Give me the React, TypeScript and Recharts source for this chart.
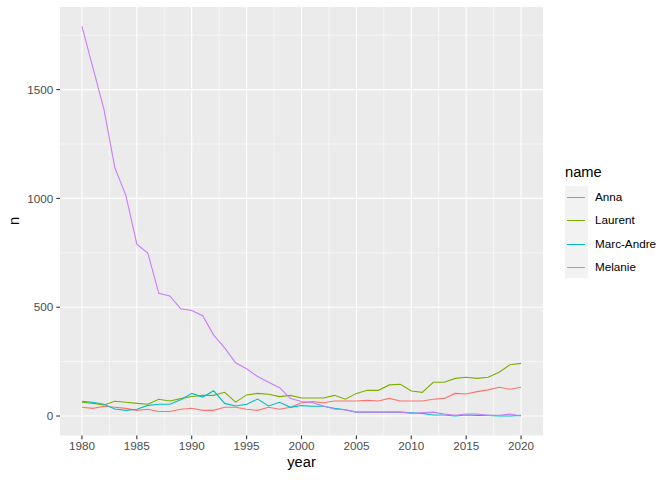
import { LineChart, Line, XAxis, YAxis, CartesianGrid } from 'recharts';

const years = Array.from({ length: 41 }, (_, i) => 1980 + i);

const names = ['Anna', 'Laurent', 'Marc-Andre', 'Melanie'];
const colors = ['#F8766D', '#7CAE00', '#00BFC4', '#C77CFF'];

const anna = [
  40, 35, 45, 40, 35, 26, 31, 21, 21, 31, 36, 26, 26, 40, 40, 31, 26, 40, 31, 40,
  61, 66, 61, 69, 69, 69, 72, 69, 81, 69, 69, 69, 77, 81, 104, 101, 112, 120, 132, 123, 132,
];
const laurent = [
  63, 58, 51, 68, 63, 58, 54, 77, 69, 80, 90, 95, 95, 109, 64, 97, 104, 100, 89, 95,
  83, 83, 83, 95, 77, 104, 118, 118, 143, 146, 115, 109, 155, 155, 173, 178, 173, 178, 201, 236, 242,
];
const marcAndre = [
  68, 63, 54, 32, 26, 31, 49, 54, 54, 75, 104, 87, 116, 58, 46, 54, 78, 46, 63, 40,
  48, 45, 45, 35, 29, 18, 18, 18, 18, 18, 15, 12, 5, 5, 0, 5, 3, 3, 0, 0, 3,
];
const melanie = [
  1790, 1600, 1410, 1140, 1014, 790, 749, 564, 552, 493, 485, 461, 372, 313, 245, 217, 182, 155, 130, 80,
  67, 61, 46, 32, 28, 18, 18, 18, 18, 18, 12, 15, 18, 9, 3, 9, 9, 3, 3, 9, 0,
];

const xTicks = [1980, 1985, 1990, 1995, 2000, 2005, 2010, 2015, 2020];
const xMinor = [1982.5, 1987.5, 1992.5, 1997.5, 2002.5, 2007.5, 2012.5, 2017.5];
const yTicks = [0, 500, 1000, 1500];
const yMinor = [250, 750, 1250, 1750];

const series = [anna, laurent, marcAndre, melanie];

const data = years.map((year, i) => {
  const row: Record<string, number> = { year };
  names.forEach((n, s) => {
    row[n] = series[s][i];
  });
  return row;
});

const FONT = '"Liberation Sans", Arial, sans-serif';

export default function App() {
  return (
    <div style={{ position: 'absolute', left: 0, top: 0, width: 672, height: 480, background: '#fff', fontFamily: FONT }}>
      <LineChart
        width={672}
        height={480}
        data={data}
        margin={{ top: 7, right: 129, bottom: 0, left: 0 }}
        style={{ fontFamily: FONT }}
      >
        <CartesianGrid
          fill="#EBEBEB"
          stroke="#FFFFFF"
          strokeWidth={0.55}
          horizontalValues={yMinor}
          verticalValues={xMinor}
        />
        <CartesianGrid
          stroke="#FFFFFF"
          strokeWidth={1.1}
          horizontalValues={yTicks}
          verticalValues={xTicks}
        />
        <XAxis
          dataKey="year"
          type="number"
          domain={[1978, 2022]}
          ticks={xTicks}
          allowDataOverflow
          axisLine={false}
          tickLine={{ stroke: '#333333', strokeWidth: 1.1 }}
          tickSize={3.7}
          tickMargin={2}
          height={44.5}
          tick={{ fill: '#4D4D4D', fontSize: 11.7 }}
          label={() => (
            <text x={301.5} y={467} textAnchor="middle" fontSize={14.7} fill="#000" fontFamily={FONT}>
              year
            </text>
          )}
        />
        <YAxis
          type="number"
          domain={[-89.5, 1879.5]}
          ticks={yTicks}
          allowDataOverflow
          axisLine={false}
          tickLine={{ stroke: '#333333', strokeWidth: 1.1 }}
          tickSize={3.7}
          tickMargin={3}
          width={60}
          tick={{ fill: '#4D4D4D', fontSize: 11.7 }}
          label={() => (
            <text
              x={19}
              y={221}
              textAnchor="middle"
              fontSize={14.7}
              fill="#000"
              fontFamily={FONT}
              transform="rotate(-90 19 221)"
            >
              n
            </text>
          )}
        />
        {names.map((n, s) => (
          <Line
            key={n}
            dataKey={n}
            stroke={colors[s]}
            strokeWidth={1.1}
            dot={false}
            activeDot={false}
            isAnimationActive={false}
          />
        ))}
      </LineChart>

      <div style={{ position: 'absolute', left: 565, top: 164, fontSize: 14.7, color: '#000', lineHeight: '17px' }}>
        name
      </div>
      <div style={{ position: 'absolute', left: 565, top: 186, width: 23, height: 92, background: '#F2F2F2' }} />
      {names.map((n, s) => (
        <div key={n}>
          <div
            style={{
              position: 'absolute',
              left: 567,
              top: 197 + s * 23.3,
              width: 18,
              height: 1.1,
              background: colors[s],
            }}
          />
          <div
            style={{
              position: 'absolute',
              left: 595,
              top: 190 + s * 23.3,
              fontSize: 11.7,
              lineHeight: '14px',
              color: '#000',
            }}
          >
            {n}
          </div>
        </div>
      ))}
    </div>
  );
}
